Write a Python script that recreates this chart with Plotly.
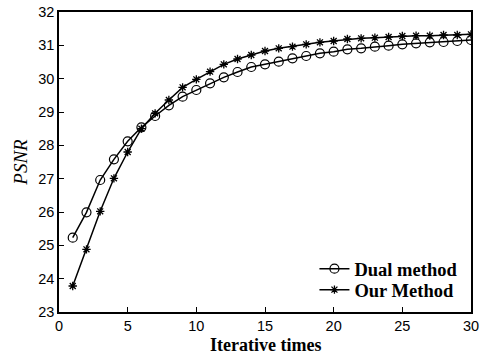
import plotly.graph_objects as go

iterations = list(range(1, 31))
dual_method = [25.23, 25.99, 26.96, 27.58, 28.12, 28.54, 28.88, 29.2, 29.46, 29.66,
               29.86, 30.04, 30.2, 30.35, 30.43, 30.51, 30.61, 30.68, 30.76, 30.81,
               30.88, 30.91, 30.96, 30.99, 31.03, 31.06, 31.09, 31.1, 31.13, 31.16]
our_method = [23.78, 24.88, 26.02, 27.01, 27.8, 28.5, 28.96, 29.36, 29.74, 29.98,
              30.21, 30.43, 30.59, 30.71, 30.83, 30.91, 30.96, 31.03, 31.09, 31.13,
              31.19, 31.21, 31.23, 31.25, 31.28, 31.29, 31.29, 31.31, 31.31, 31.33]
x_ticks = [0, 5, 10, 15, 20, 25, 30]
y_ticks = [23, 24, 25, 26, 27, 28, 29, 30, 31, 32]
x_title = "Iterative times"
y_title = "PSNR"

fig = go.Figure()
fig.add_trace(go.Scatter(
    x=iterations, y=dual_method, mode="lines+markers", name="<b>Dual method</b>",
    line=dict(color="black", width=1.5), legend="legend",
    marker=dict(symbol="circle-open", size=9, color="black", line=dict(width=1.2, color="black")),
))
fig.add_trace(go.Scatter(
    x=iterations, y=our_method, mode="lines+markers", name="<b>Our Method</b>",
    line=dict(color="black", width=1.5), legend="legend2",
    marker=dict(symbol="asterisk-open", size=7, color="black", line=dict(width=1.3, color="black")),
))

axis_common = dict(
    showline=True, linecolor="black", linewidth=1.5, mirror=True,
    ticks="inside", ticklen=5, tickwidth=1, tickcolor="black",
    showgrid=False, zeroline=False, automargin=False,
    tickfont=dict(family="Liberation Sans, Arial, sans-serif", size=14.5, color="black"),
)

fig.update_xaxes(range=[0, 30], tickvals=x_ticks, **axis_common)
fig.update_yaxes(range=[23, 32], tickvals=y_ticks, **axis_common,
                 title=dict(text="<i>" + y_title + "</i>", standoff=6,
                            font=dict(family="Liberation Serif, Times New Roman, serif", size=19, color="black")))

fig.add_annotation(
    text="<b>" + x_title + "</b>", xref="paper", yref="paper", x=0.5, y=0,
    xanchor="center", yanchor="middle", yshift=-32.5, showarrow=False, borderpad=0,
    font=dict(family="Liberation Serif, Times New Roman, serif", size=18, color="black"),
)

legend_font = dict(family="Liberation Serif, Times New Roman, serif", size=18.5, color="black")
fig.update_layout(
    width=493, height=354,
    margin=dict(l=59, r=22, t=12, b=42),
    plot_bgcolor="white", paper_bgcolor="white",
    showlegend=True,
    legend=dict(x=0.62, y=0.143, xanchor="left", yanchor="middle",
                bgcolor="rgba(0,0,0,0)", borderwidth=0, font=legend_font),
    legend2=dict(x=0.62, y=0.073, xanchor="left", yanchor="middle",
                 bgcolor="rgba(0,0,0,0)", borderwidth=0, font=legend_font),
)

fig.write_html("out.html", config={"displayModeBar": False},
               post_script="document.body.style.margin='0';document.body.style.overflow='hidden';")
